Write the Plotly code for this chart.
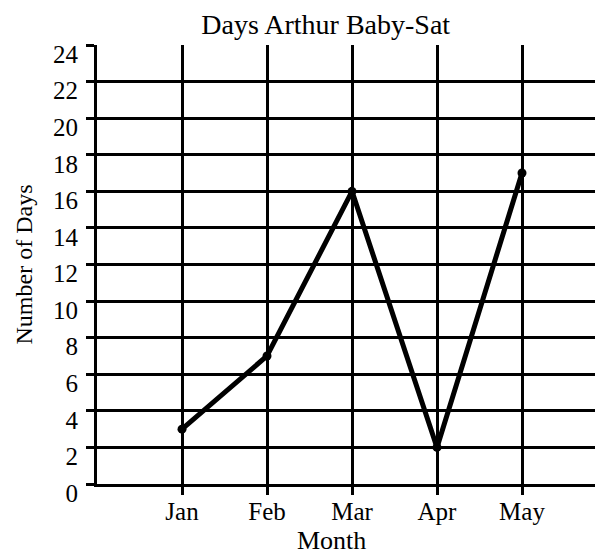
import plotly.graph_objects as go

months = ["Jan", "Feb", "Mar", "Apr", "May"]
month_pos = [1, 2, 3, 4, 5]
days = [3, 7, 16, 2, 17]
y_ticks = list(range(0, 25, 2))

serif = "Liberation Serif"

fig = go.Figure()
fig.add_trace(
    go.Scatter(
        x=month_pos,
        y=days,
        mode="lines+markers",
        line=dict(color="black", width=5),
        marker=dict(color="black", size=9),
        showlegend=False,
    )
)

fig.update_xaxes(
    range=[0, 5.953],
    tickvals=month_pos,
    ticktext=months,
    showgrid=True,
    gridcolor="black",
    gridwidth=3,
    showline=True,
    linecolor="black",
    linewidth=3,
    ticks="outside",
    ticklen=8,
    tickwidth=3,
    tickcolor="black",
    zeroline=False,
    ticklabelstandoff=-5,
    tickfont=dict(family=serif, size=25, color="black"),
)
fig.update_yaxes(
    range=[0, 24],
    tickvals=y_ticks,
    showgrid=True,
    gridcolor="black",
    gridwidth=3,
    showline=True,
    linecolor="black",
    linewidth=3,
    ticks="outside",
    ticklen=8,
    tickwidth=3,
    tickcolor="black",
    zeroline=False,
    ticklabelshift=9,
    ticklabelstandoff=3,
    tickfont=dict(family=serif, size=25, color="black"),
    title=dict(text="Number of Days", font=dict(family=serif, size=24, color="black"), standoff=14),
)
# x axis title sits left of the plot centre in the original, so place it by hand
fig.add_annotation(
    text="Month",
    xref="paper",
    yref="paper",
    x=0.4625,
    y=-0.128,
    xanchor="center",
    yanchor="middle",
    showarrow=False,
    font=dict(family=serif, size=26, color="black"),
)
# page body has an 8px margin, so the figure is a bit smaller than the window
fig.update_layout(
    width=595,
    height=546,
    margin=dict(l=89, r=0, t=37, b=70),
    paper_bgcolor="white",
    plot_bgcolor="white",
    font=dict(family=serif, color="black"),
    title=dict(
        text="Days Arthur Baby-Sat",
        x=0.534,
        xanchor="center",
        y=0.971,
        yanchor="middle",
        font=dict(family=serif, size=28, color="black"),
    ),
)

fig.write_html("out.html")
